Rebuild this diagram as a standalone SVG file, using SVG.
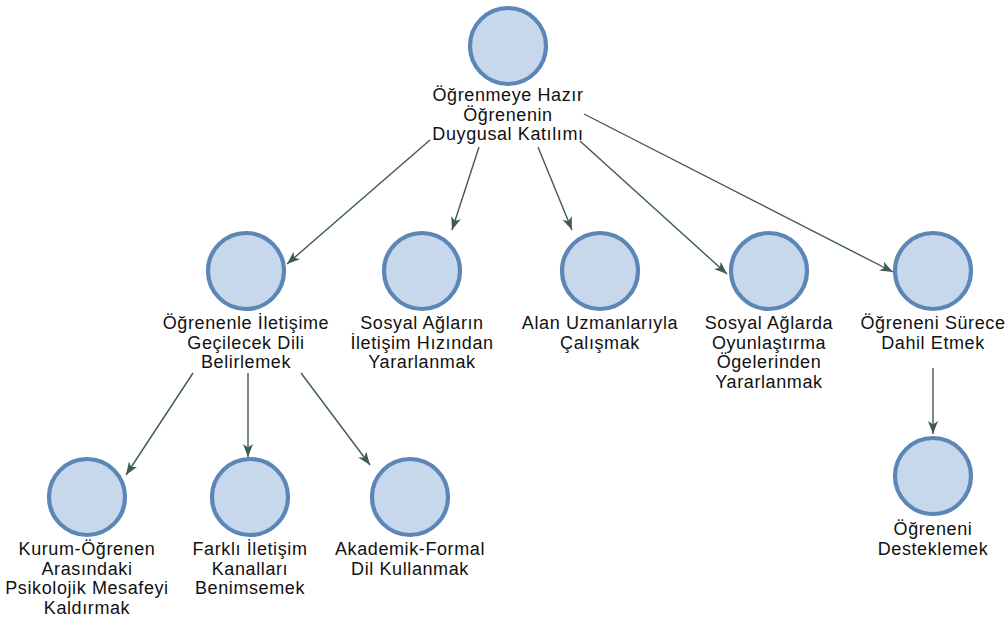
<svg xmlns="http://www.w3.org/2000/svg" width="1005" height="620" viewBox="0 0 1005 620">
  <style>
    .node circle { fill: #c7d7ec; stroke: #5b86b5; stroke-width: 4.2; }
    .node text { font-family: "Liberation Sans", Arial, sans-serif; font-size: 18px; letter-spacing: 0.6px; fill: #111; text-anchor: middle; }
    .edge { stroke: #3e5a53; stroke-width: 1.4; fill: none; marker-end: url(#arrow); }
  </style>
  <defs>
    <marker id="arrow" markerUnits="userSpaceOnUse" markerWidth="14" markerHeight="12" refX="13" refY="5" orient="auto">
      <path d="M0,0 L13,5 L0,10 L3.5,5 Z" fill="#3e5a53"/>
    </marker>
  </defs>
  <rect width="1005" height="620" fill="#ffffff"/>
  <g id="connectors">
    <line class="edge" x1="430" y1="140" x2="287" y2="264"/>
    <line class="edge" x1="479" y1="147" x2="452" y2="230"/>
    <line class="edge" x1="538" y1="147" x2="572" y2="230"/>
    <line class="edge" x1="580" y1="141" x2="727" y2="274"/>
    <line class="edge" x1="584" y1="114" x2="893" y2="272"/>
    <line class="edge" x1="193" y1="373" x2="126" y2="475"/>
    <line class="edge" x1="248" y1="373" x2="248" y2="457"/>
    <line class="edge" x1="301" y1="373" x2="370" y2="465"/>
    <line class="edge" x1="933" y1="368" x2="933" y2="434"/>
  </g>
  <g id="n0" class="node">
    <circle cx="508" cy="46" r="38"/>
    <text x="508" y="101">Öğrenmeye Hazır<tspan x="508" dy="19.5">Öğrenenin</tspan><tspan x="508" dy="19.5">Duygusal Katılımı</tspan></text>
  </g>
  <g id="n1" class="node">
    <circle cx="246" cy="271" r="38"/>
    <text x="246" y="329">Öğrenenle İletişime<tspan x="246" dy="19.5">Geçilecek Dili</tspan><tspan x="246" dy="19.5">Belirlemek</tspan></text>
  </g>
  <g id="n2" class="node">
    <circle cx="422" cy="271" r="38"/>
    <text x="422" y="329">Sosyal Ağların<tspan x="422" dy="19.5">İletişim Hızından</tspan><tspan x="422" dy="19.5">Yararlanmak</tspan></text>
  </g>
  <g id="n3" class="node">
    <circle cx="600" cy="271" r="38"/>
    <text x="600" y="329">Alan Uzmanlarıyla<tspan x="600" dy="19.5">Çalışmak</tspan></text>
  </g>
  <g id="n4" class="node">
    <circle cx="769" cy="271" r="38"/>
    <text x="769" y="329">Sosyal Ağlarda<tspan x="769" dy="19.5">Oyunlaştırma</tspan><tspan x="769" dy="19.5">Ögelerinden</tspan><tspan x="769" dy="19.5">Yararlanmak</tspan></text>
  </g>
  <g id="n5" class="node">
    <circle cx="933" cy="271" r="38"/>
    <text x="933" y="329">Öğreneni Sürece<tspan x="933" dy="19.5">Dahil Etmek</tspan></text>
  </g>
  <g id="n6" class="node">
    <circle cx="87" cy="497" r="38"/>
    <text x="87" y="555">Kurum-Öğrenen<tspan x="87" dy="19.5">Arasındaki</tspan><tspan x="87" dy="19.5">Psikolojik Mesafeyi</tspan><tspan x="87" dy="19.5">Kaldırmak</tspan></text>
  </g>
  <g id="n7" class="node">
    <circle cx="250" cy="497" r="38"/>
    <text x="250" y="555">Farklı İletişim<tspan x="250" dy="19.5">Kanalları</tspan><tspan x="250" dy="19.5">Benimsemek</tspan></text>
  </g>
  <g id="n8" class="node">
    <circle cx="410" cy="497" r="38"/>
    <text x="410" y="555">Akademik-Formal<tspan x="410" dy="19.5">Dil Kullanmak</tspan></text>
  </g>
  <g id="n9" class="node">
    <circle cx="933" cy="476" r="38"/>
    <text x="933" y="535">Öğreneni<tspan x="933" dy="19.5">Desteklemek</tspan></text>
  </g>
</svg>
